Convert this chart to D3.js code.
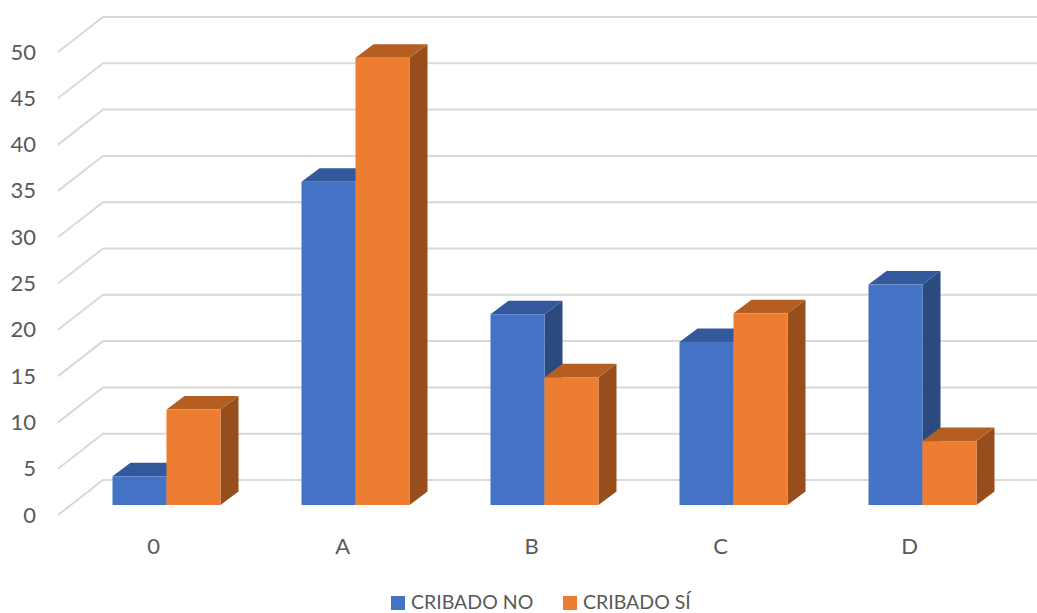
<!DOCTYPE html>
<html>
<head>
<meta charset="utf-8">
<script src="https://cdn.jsdelivr.net/npm/d3@7"></script>
<style>
  html, body { margin: 0; padding: 0; background: #ffffff; }
  svg { display: block; font-family: Lato, "Open Sans", sans-serif; }
</style>
</head>
<body>
<svg id="chart" width="1037" height="613"></svg>
<script>
// Categories, series and axis ticks
const categories = ["0", "A", "B", "C", "D"];
const seriesNames = ["CRIBADO NO", "CRIBADO SÍ"];
const cribadoNo = [3.1, 34.9, 20.6, 17.6, 23.8];
const cribadoSi = [10.3, 48.3, 13.8, 20.7, 6.9];
const yTicks = [0, 5, 10, 15, 20, 25, 30, 35, 40, 45, 50];

const seriesValues = [cribadoNo, cribadoSi];
const frontColors = ["#4472C4", "#ED7D31"];
const topColors = ["#33589B", "#B45E22"];
const sideColors = ["#2A4A80", "#984E1C"];

const svg = d3.select("#chart");

// Floor/wall geometry of the 3D box
const wallDx = 45, wallDy = -35;        // depth of the back wall from the front edge
const barDepthX = 12.8, barDepthY = -10; // bars stand a little behind the front edge
const barDx = 18, barDy = -13.5;        // thickness of each bar

const yFront = d3.scaleLinear().domain([0, 50]).range([515, 52]);
const leftX = 58;
const rightX = 1037;

const x0 = d3.scaleBand()
  .domain(categories)
  .range([72, 1017])
  .paddingInner(81 / 189)
  .paddingOuter(81 / 378);

const x1 = d3.scaleBand()
  .domain(seriesNames)
  .range([0, x0.bandwidth()]);

// Gridlines: side wall diagonal + back wall horizontal
const grid = svg.append("g").attr("stroke", "#D9D9D9").attr("stroke-width", 2).attr("fill", "none");
yTicks.forEach(v => {
  const yf = yFront(v);
  grid.append("path")
    .attr("d", `M${leftX},${yf} L${leftX + wallDx},${yf + wallDy} L${rightX},${yf + wallDy}`);
});

// Y tick labels
svg.append("g").selectAll("text")
  .data(yTicks)
  .join("text")
  .attr("x", 36)
  .attr("y", d => yFront(d) + 2)
  .attr("text-anchor", "end")
  .attr("dominant-baseline", "middle")
  .attr("font-size", 22)
  .attr("fill", "#595959")
  .text(d => d);

// Bars
const bars = svg.append("g");
categories.forEach((cat, i) => {
  seriesNames.forEach((s, j) => {
    const v = seriesValues[j][i];
    const xl = x0(cat) + x1(s);
    const xr = xl + x1.bandwidth();
    const yb = yFront(0) + barDepthY;
    const yt = yFront(v) + barDepthY;
    const g = bars.append("g");
    // side face
    g.append("path")
      .attr("d", `M${xr},${yt} L${xr + barDx},${yt + barDy} L${xr + barDx},${yb + barDy} L${xr},${yb} Z`)
      .attr("fill", sideColors[j]);
    // top face
    g.append("path")
      .attr("d", `M${xl},${yt} L${xl + barDx},${yt + barDy} L${xr + barDx},${yt + barDy} L${xr},${yt} Z`)
      .attr("fill", topColors[j]);
    // front face
    g.append("rect")
      .attr("x", xl)
      .attr("y", yt)
      .attr("width", xr - xl)
      .attr("height", yb - yt)
      .attr("fill", frontColors[j]);
  });
});

// Category labels along the front floor edge
svg.append("g").selectAll("text")
  .data(categories)
  .join("text")
  .attr("x", d => x0(d) + x0.bandwidth() / 2 - barDepthX)
  .attr("y", 548)
  .attr("text-anchor", "middle")
  .attr("dominant-baseline", "middle")
  .attr("font-size", 22)
  .attr("fill", "#595959")
  .text(d => d);

// Legend
const legendX = [391, 563];
const legend = svg.append("g");
seriesNames.forEach((s, j) => {
  legend.append("rect")
    .attr("x", legendX[j]).attr("y", 596)
    .attr("width", 14).attr("height", 14)
    .attr("fill", frontColors[j]);
  legend.append("text")
    .attr("x", legendX[j] + 20).attr("y", 609)
    .attr("font-size", 19.5)
    .attr("fill", "#595959")
    .text(s);
});
</script>
</body>
</html>
